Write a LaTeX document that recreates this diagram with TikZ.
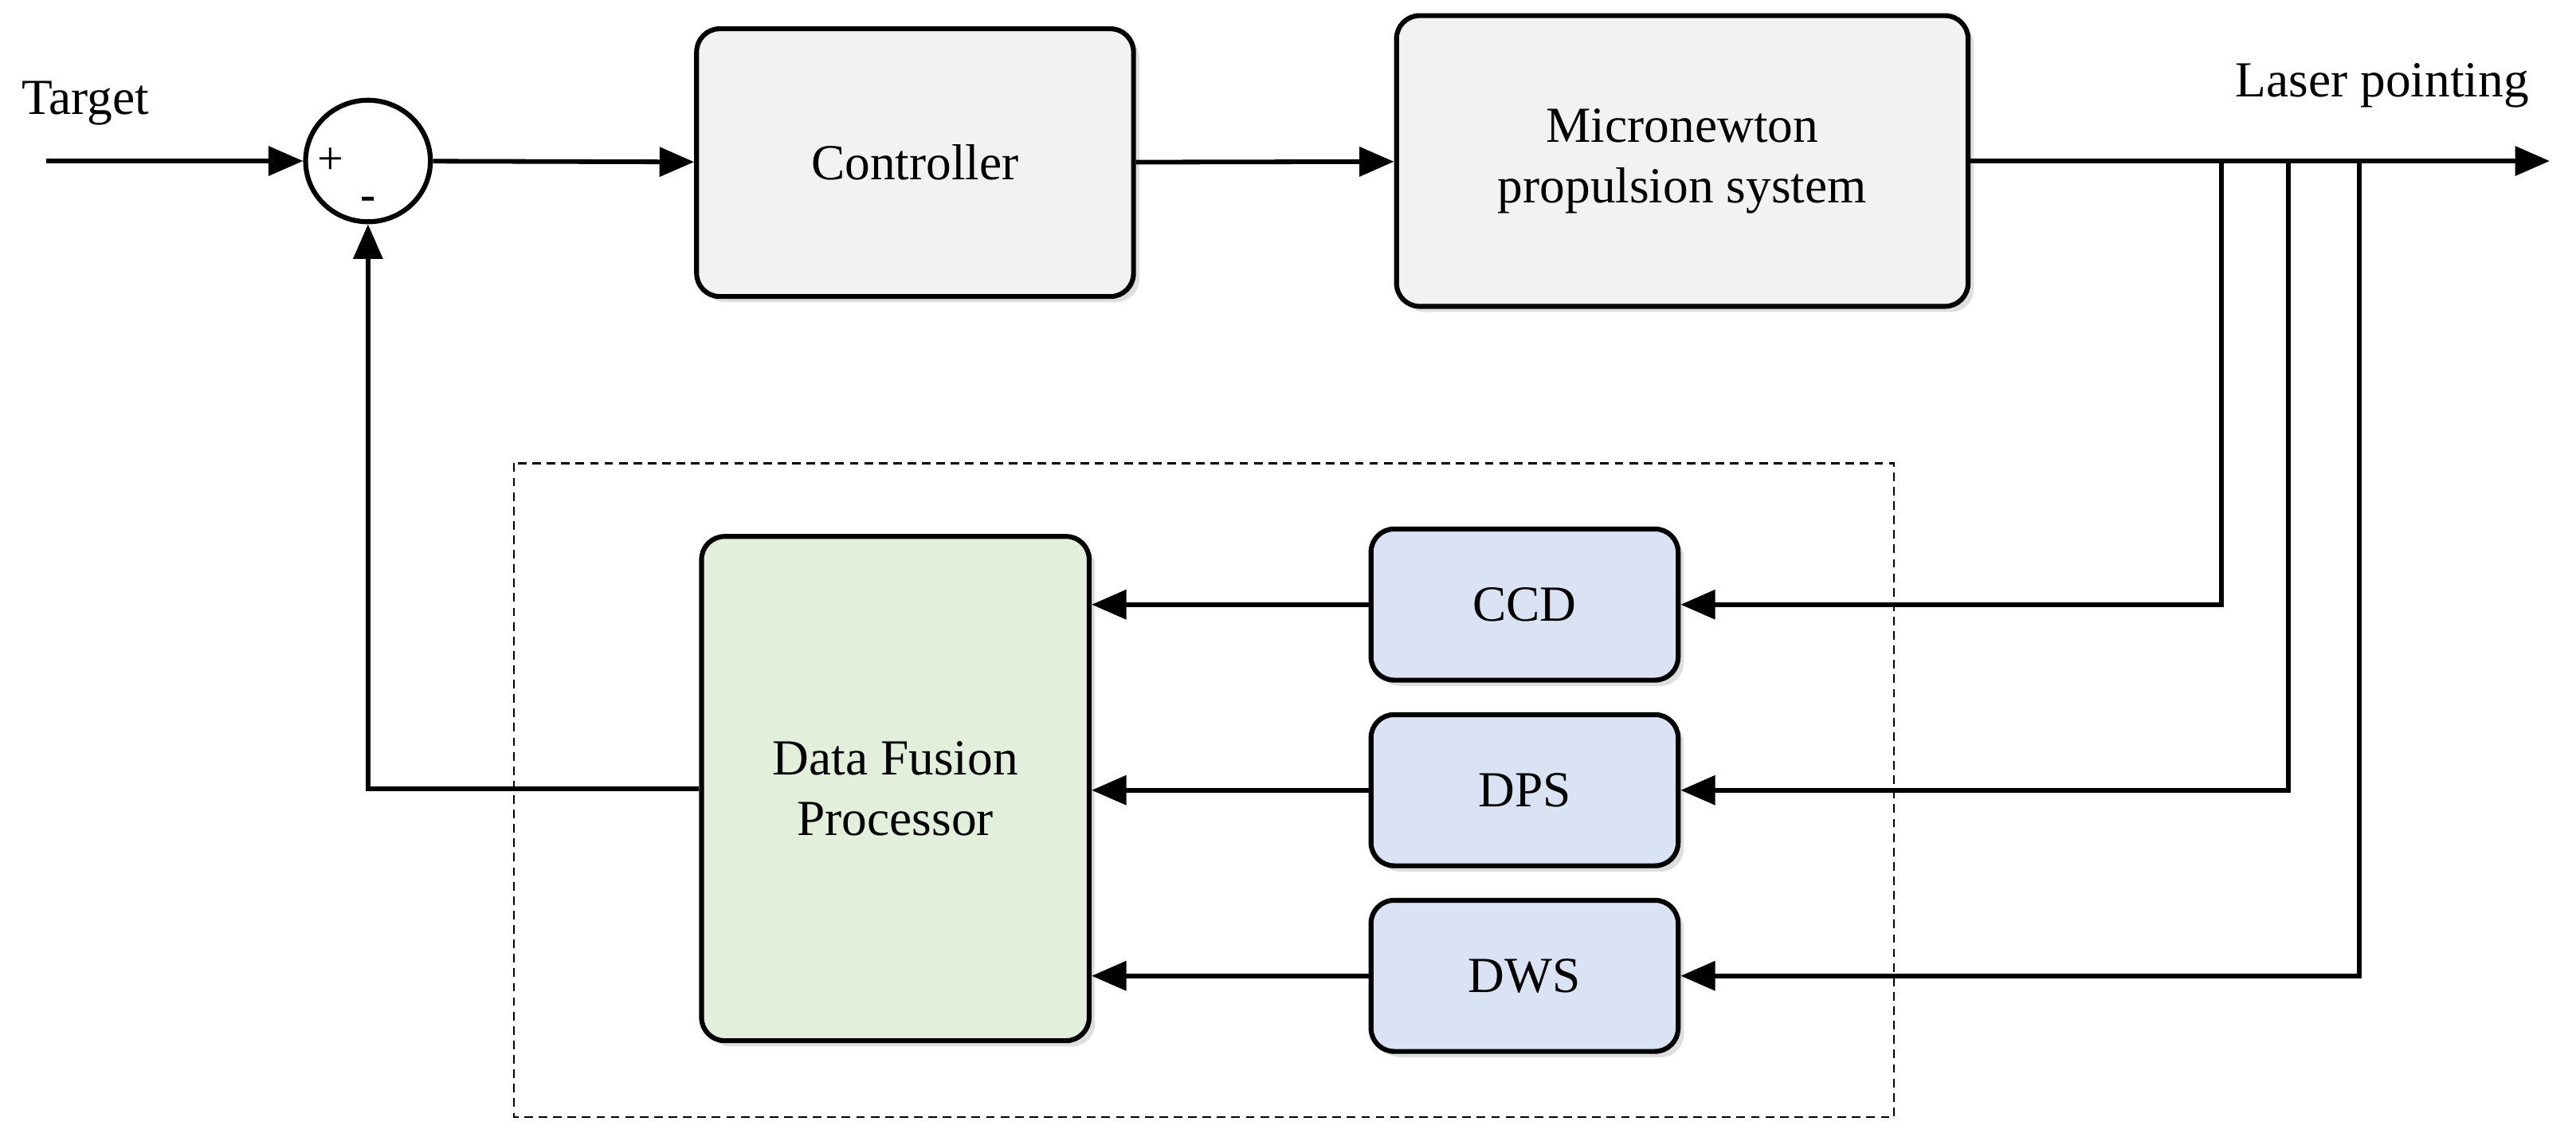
\documentclass[tikz,border=0pt]{standalone}
\usepackage{fontspec}
\setmainfont{Liberation Serif}
\usetikzlibrary{arrows.meta,shadows,shapes.geometric}
\definecolor{boxgray}{HTML}{F2F2F2}
\definecolor{boxgreen}{HTML}{E2EFDA}
\definecolor{boxblue}{HTML}{DAE3F3}
\tikzset{
  blk/.style={draw, line width=1.7pt, rounded corners=8pt, align=center,
    drop shadow={opacity=0.25, shadow xshift=2pt, shadow yshift=-2pt}},
  sig/.style={line width=1.6pt, -{Triangle[length=12pt,width=10pt]}},
  wire/.style={line width=1.6pt}
}
\begin{document}
\begin{tikzpicture}[x=0.02cm, y=-0.02cm, font=\fontsize{17.5}{21}\selectfont]
\useasboundingbox (0,0) rectangle (1568,692);

% forward path
\node (target) at (52,63) {Target};
\coordinate (tin) at (28,98);
\node [draw, line width=1.7pt, ellipse, minimum width=1.52cm, minimum height=1.48cm, inner sep=0pt] (sum) at (224,98) {};
\node [font=\fontsize{16}{18}\selectfont] at (201,98) {+};
\node [font=\fontsize{16}{18}\selectfont\bfseries] at (224,124) {-};
\node [blk, fill=boxgray, minimum width=5.32cm, minimum height=3.26cm] (ctrl) at (557,99) {Controller};
\node [blk, fill=boxgray, minimum width=6.96cm, minimum height=3.54cm] (prop) at (1024,98) {Micronewton\\propulsion system};
\node (laser) at (1450,52) {Laser pointing};
\coordinate (tout) at (1552,98);

\draw [sig] (tin) -- (sum);
\draw [sig] (sum) -- (ctrl);
\draw [sig] (ctrl) -- (prop);
\draw [sig] (prop) -- (tout);

% sensing and fusion
\draw [densely dashed, line width=0.6pt] (313,282) rectangle (1153,680);
\node [blk, fill=boxgreen, minimum width=4.72cm, minimum height=6.14cm] (dfp) at (545,480) {Data Fusion\\Processor};
\node [blk, fill=boxblue, minimum width=3.74cm, minimum height=1.84cm] (ccd) at (928,368) {CCD};
\node [blk, fill=boxblue, minimum width=3.74cm, minimum height=1.84cm] (dps) at (928,481) {DPS};
\node [blk, fill=boxblue, minimum width=3.74cm, minimum height=1.84cm] (dws) at (928,594) {DWS};

\coordinate (tapa) at (1352,98);
\coordinate (tapb) at (1393,98);
\coordinate (tapc) at (1436,98);
\draw [sig] (tapa) |- (ccd);
\draw [sig] (tapb) |- (dps);
\draw [sig] (tapc) |- (dws);

\draw [sig] (ccd) -- (dfp.east |- ccd);
\draw [sig] (dps) -- (dfp.east |- dps);
\draw [sig] (dws) -- (dfp.east |- dws);

\draw [sig] (dfp.west) -| (sum.south);

\end{tikzpicture}
\end{document}
